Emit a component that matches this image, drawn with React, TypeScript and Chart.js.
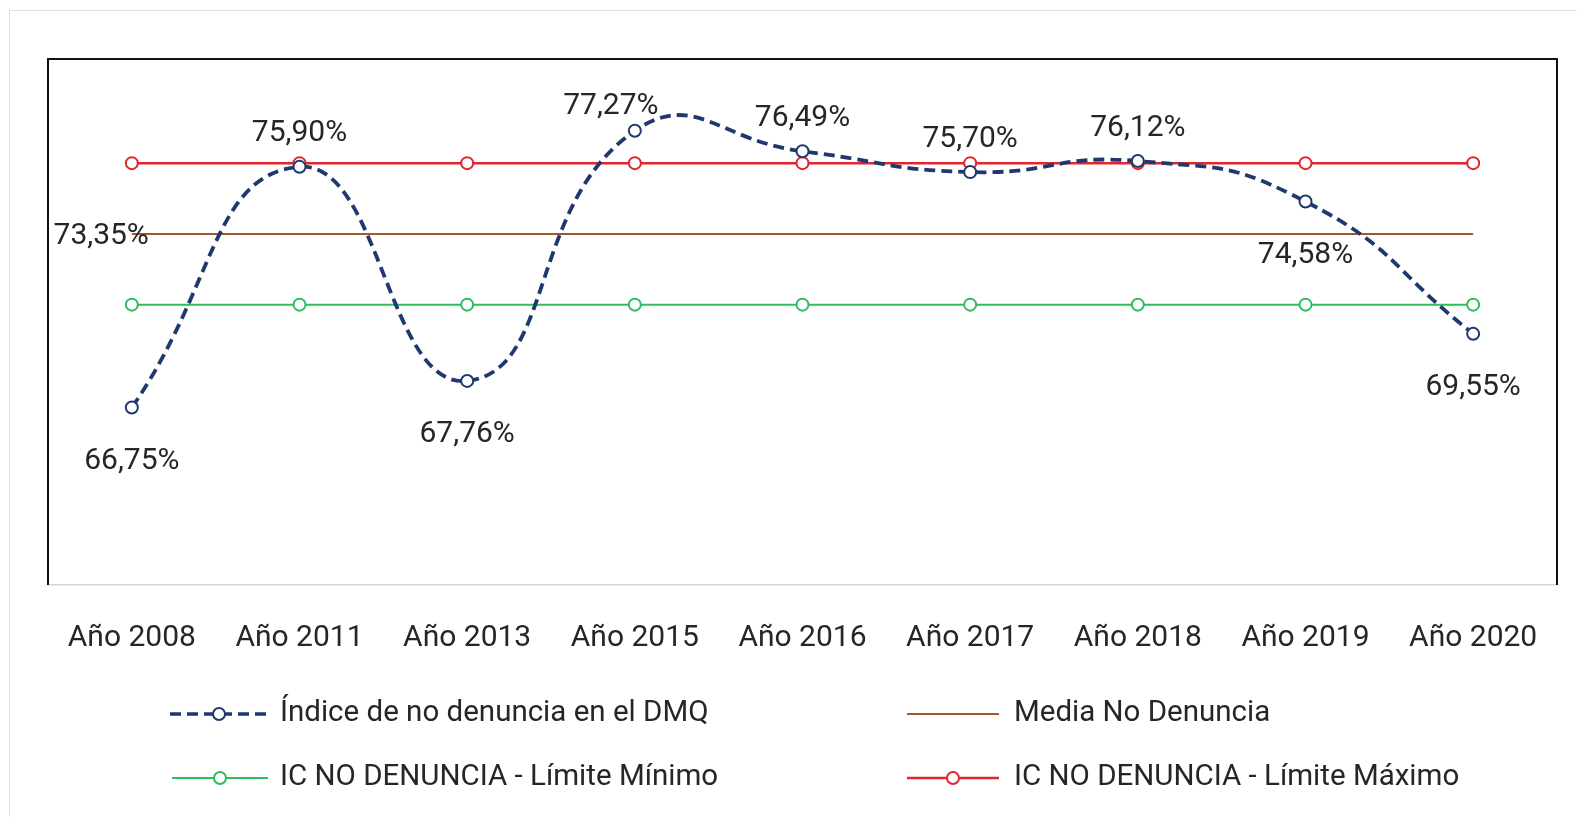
import React, { useEffect, useRef } from 'react';
import { Chart, registerables } from 'chart.js';

Chart.register(...registerables);

// ---- data ----
const categories = ['Año 2008', 'Año 2011', 'Año 2013', 'Año 2015', 'Año 2016', 'Año 2017', 'Año 2018', 'Año 2019', 'Año 2020'];
const indiceNoDenuncia = [66.75, 75.9, 67.76, 77.27, 76.49, 75.7, 76.12, 74.58, 69.55];
const mediaNoDenuncia = [73.35, 73.35, 73.35, 73.35, 73.35, 73.35, 73.35, 73.35, 73.35];
const icLimiteMinimo = [70.66, 70.66, 70.66, 70.66, 70.66, 70.66, 70.66, 70.66, 70.66];
const icLimiteMaximo = [76.04, 76.04, 76.04, 76.04, 76.04, 76.04, 76.04, 76.04, 76.04];
const seriesNames = [
  'Índice de no denuncia en el DMQ',
  'Media No Denuncia',
  'IC NO DENUNCIA - Límite Mínimo',
  'IC NO DENUNCIA - Límite Máximo',
];
const yMin = 60;
const yMax = 80;

// ---- styles ----
const FONT_FAMILY = 'Roboto, "Noto Sans", sans-serif';
const TEXT_COLOR = '#262626';
const BLUE = '#1f3970';
const BROWN = '#a0592b';
const GREEN = '#2dbd5c';
const RED = '#e0262e';
const DASH = [11, 6];
// label placement for the main series (style only)
const labelPlacement = ['below', 'above', 'below', 'aboveLeft', 'above', 'above', 'above', 'below', 'below'];

const fmt = (v: number) => v.toFixed(2).replace('.', ',') + '%';

const framePlugin = {
  id: 'frame',
  beforeDatasetsDraw(chart: any) {
    const { ctx, chartArea } = chart;
    const { left, top, right, bottom } = chartArea;
    ctx.save();
    ctx.strokeStyle = '#111';
    ctx.lineWidth = 2;
    ctx.beginPath();
    ctx.moveTo(left, bottom);
    ctx.lineTo(left, top);
    ctx.lineTo(right, top);
    ctx.lineTo(right, bottom);
    ctx.stroke();
    ctx.restore();
  },
};

const labelsPlugin = {
  id: 'dataLabels',
  afterDatasetsDraw(chart: any) {
    const { ctx } = chart;
    ctx.save();
    ctx.font = `30px ${FONT_FAMILY}`;
    ctx.fillStyle = TEXT_COLOR;
    ctx.textBaseline = 'middle';
    ctx.textAlign = 'center';
    const meta = chart.getDatasetMeta(0);
    meta.data.forEach((pt: any, i: number) => {
      const place = labelPlacement[i];
      let dx = 0;
      let dy = 0;
      if (place === 'above') dy = -33;
      else if (place === 'below') dy = 54;
      else if (place === 'aboveLeft') { dx = -24; dy = -24; }
      ctx.fillText(fmt(indiceNoDenuncia[i]), pt.x + dx, pt.y + dy);
    });
    const meanMeta = chart.getDatasetMeta(1);
    const p0 = meanMeta.data[0];
    ctx.textAlign = 'right';
    ctx.fillText(fmt(mediaNoDenuncia[0]), p0.x + 17, p0.y + 3);
    ctx.restore();
  },
};

const legendPlugin = {
  id: 'customLegend',
  afterDraw(chart: any) {
    const { ctx } = chart;
    const items = [
      { name: seriesNames[0], color: BLUE, dash: DASH, marker: true, width: 3.5, x1: 160, x2: 258, tx: 270, y: 703 },
      { name: seriesNames[1], color: BROWN, dash: [], marker: false, width: 2, x1: 897, x2: 989, tx: 1004, y: 703 },
      { name: seriesNames[2], color: GREEN, dash: [], marker: true, width: 2, x1: 162, x2: 258, tx: 270, y: 767 },
      { name: seriesNames[3], color: RED, dash: [], marker: true, width: 2.5, x1: 897, x2: 989, tx: 1004, y: 767 },
    ];
    ctx.save();
    items.forEach((it) => {
      ctx.strokeStyle = it.color;
      ctx.lineWidth = it.width;
      ctx.setLineDash(it.dash);
      ctx.beginPath();
      ctx.moveTo(it.x1, it.y);
      ctx.lineTo(it.x2, it.y);
      ctx.stroke();
      ctx.setLineDash([]);
      if (it.marker) {
        const cx = (it.x1 + it.x2) / 2;
        ctx.beginPath();
        ctx.arc(cx, it.y, 6, 0, Math.PI * 2);
        ctx.fillStyle = '#fff';
        ctx.fill();
        ctx.lineWidth = 2;
        ctx.stroke();
      }
      ctx.font = `29.5px ${FONT_FAMILY}`;
      ctx.fillStyle = TEXT_COLOR;
      ctx.textAlign = 'left';
      ctx.textBaseline = 'middle';
      ctx.fillText(it.name, it.tx, it.y);
    });
    ctx.restore();
  },
};

export default function App() {
  const canvasRef = useRef<HTMLCanvasElement | null>(null);

  useEffect(() => {
    if (!canvasRef.current) return;
    const chart = new Chart(canvasRef.current, {
      type: 'line',
      data: {
        labels: categories,
        datasets: [
          {
            label: seriesNames[0],
            data: indiceNoDenuncia,
            borderColor: BLUE,
            borderWidth: 3.8,
            borderDash: DASH,
            tension: 0.5,
            pointRadius: 6,
            pointBorderWidth: 2,
            pointBorderColor: BLUE,
            pointBackgroundColor: '#fff',
            fill: false,
          },
          {
            label: seriesNames[1],
            data: mediaNoDenuncia,
            borderColor: BROWN,
            borderWidth: 2,
            pointRadius: 0,
            fill: false,
          },
          {
            label: seriesNames[2],
            data: icLimiteMinimo,
            borderColor: GREEN,
            borderWidth: 2,
            pointRadius: 6,
            pointBorderWidth: 2,
            pointBorderColor: GREEN,
            pointBackgroundColor: '#fff',
            fill: false,
          },
          {
            label: seriesNames[3],
            data: icLimiteMaximo,
            borderColor: RED,
            borderWidth: 2.5,
            pointRadius: 6,
            pointBorderWidth: 2,
            pointBorderColor: RED,
            pointBackgroundColor: '#fff',
            fill: false,
          },
        ],
      },
      options: {
        responsive: false,
        animation: false,
        events: [],
        layout: { padding: { left: 38, top: 48, right: 23, bottom: 0 } },
        plugins: {
          legend: { display: false },
          tooltip: { enabled: false },
        },
        scales: {
          x: {
            offset: true,
            grid: { display: false, drawTicks: false },
            border: { display: true, color: '#d4d4d4', width: 1.5 },
            ticks: {
              padding: 35,
              color: TEXT_COLOR,
              font: { family: FONT_FAMILY, size: 30 },
              maxRotation: 0,
              autoSkip: false,
            },
            afterFit(scale: any) {
              scale.height = 241;
            },
          },
          y: {
            display: false,
            min: yMin,
            max: yMax,
          },
        },
      },
      plugins: [framePlugin, labelsPlugin, legendPlugin],
    });
    return () => chart.destroy();
  }, []);

  return (
    <div
      style={{
        position: 'relative',
        left: 1,
        top: 2,
        width: 1574,
        height: 809,
        boxSizing: 'border-box',
        borderTop: '1px solid #dedede',
        borderLeft: '1px solid #dedede',
      }}
    >
      <canvas
        ref={canvasRef}
        width={1570}
        height={815}
        style={{ position: 'absolute', left: 0, top: 0, width: 1570, height: 815 }}
      />
    </div>
  );
}
